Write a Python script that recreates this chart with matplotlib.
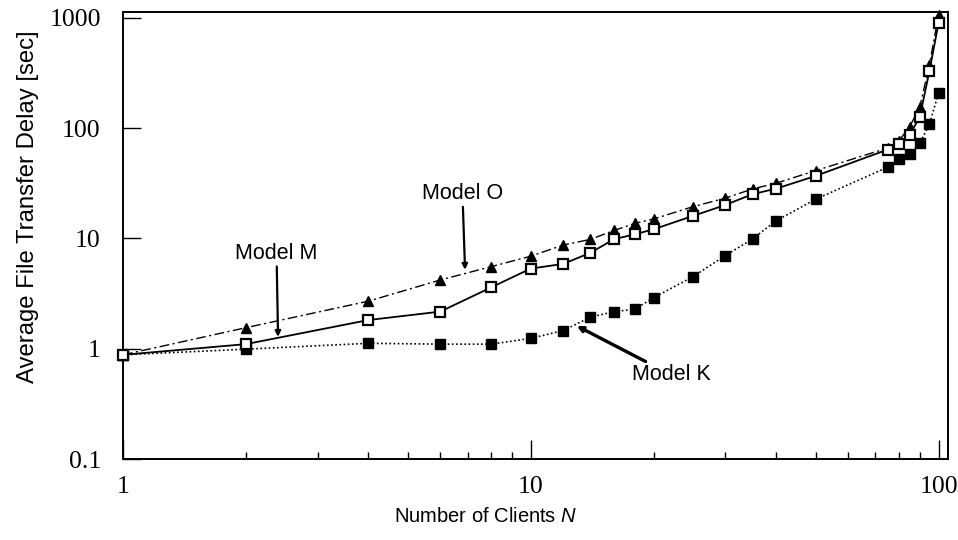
import matplotlib
matplotlib.use("Agg")
import matplotlib.pyplot as plt

# number of clients N
clients = [1, 2, 4, 6, 8, 10, 12, 14, 16, 18, 20, 25, 30, 35, 40, 50, 75, 80, 85, 90, 95, 100]

# average file transfer delay [sec]
delay_o = [0.88, 1.55, 2.7, 4.2, 5.55, 6.9, 8.7, 9.8, 11.8, 13.7, 15.0, 19.4, 23.2, 28.1,
           31.7, 41.2, 66, 77, 103, 157, 375, 1064]
delay_m = [0.88, 1.10, 1.82, 2.17, 3.6, 5.33, 5.87, 7.4, 9.84, 10.9, 12.1, 16.0, 20.1, 25.2,
           28.3, 36.9, 63.9, 72, 86.8, 127, 330, 895]
delay_k = [0.88, 0.99, 1.12, 1.10, 1.10, 1.24, 1.46, 1.93, 2.17, 2.28, 2.9, 4.5, 7.0, 9.9,
           14.5, 22.7, 44.2, 52.3, 58.4, 73, 108.6, 207]

xticks = [1, 10, 100]
xtick_labels = ["1", "10", "100"]
yticks = [0.1, 1, 10, 100, 1000]
ytick_labels = ["0.1", "1", "10", "100", "1000"]

plt.rcParams['font.family'] = ['Liberation Sans', 'DejaVu Sans']
plt.rcParams['mathtext.fontset'] = 'custom'
plt.rcParams['mathtext.it'] = 'Liberation Sans:italic'
plt.rcParams['mathtext.rm'] = 'Liberation Sans'

fig = plt.figure(figsize=(9.58, 5.4), dpi=100)
ax = fig.add_axes([123 / 958, 1 - 459 / 540, 825 / 958, 447 / 540])

# Model O: filled triangles, dash-dot
ax.plot(clients, delay_o, color='black', lw=1.0, linestyle=(0, (7, 2.5, 1.5, 2.5)),
        marker='^', markersize=7, markerfacecolor='black', markeredgecolor='black',
        clip_on=False, zorder=3)
# Model K: filled squares, dotted
ax.plot(clients, delay_k, color='black', lw=1.2, linestyle=(0, (1, 1.5)),
        marker='s', markersize=7, markerfacecolor='black', markeredgecolor='black',
        clip_on=False, zorder=3)
# Model M: open squares, solid
ax.plot(clients, delay_m, color='black', lw=1.3, linestyle='-',
        marker='s', markersize=6.5, markerfacecolor='white', markeredgecolor='black',
        markeredgewidth=1.6, clip_on=False, zorder=4)

ax.set_xscale('log')
ax.set_yscale('log')
ax.set_xlim(1, 105.5)
ax.set_ylim(0.1, 1130)

ax.set_xticks(xticks, labels=xtick_labels)
ax.set_yticks(yticks, labels=ytick_labels)
ax.yaxis.set_minor_locator(matplotlib.ticker.NullLocator())
ax.xaxis.set_minor_formatter(matplotlib.ticker.NullFormatter())

ax.tick_params(axis='x', which='major', direction='in', length=13.5, width=1, pad=12,
               labelsize=18.5, labelfontfamily='Liberation Serif')
ax.tick_params(axis='x', which='minor', direction='in', length=5, width=1)
ax.tick_params(axis='y', which='major', direction='in', length=13, width=1, pad=16,
               labelsize=18.5, labelfontfamily='Liberation Serif')

for side in ['left', 'right', 'top', 'bottom']:
    ax.spines[side].set_linewidth(1.4)
    ax.spines[side].set_color('black')

ax.set_xlabel(r"Number of Clients $\it{N}$", fontsize=14.5)
ax.xaxis.set_label_coords(0.44, -0.108)
ax.set_ylabel("Average File Transfer Delay [sec]", fontsize=17.2)
ax.yaxis.set_label_coords(-0.102, 0.564)

arrow = dict(arrowstyle='-|>', color='black', lw=1.6, mutation_scale=8, shrinkA=0, shrinkB=0)
ax.annotate("Model M", xy=(2.40, 1.28), xytext=(2.38, 5.9),
            ha='center', va='bottom', fontsize=15.5, arrowprops=arrow)
ax.annotate("Model O", xy=(6.9, 5.2), xytext=(6.8, 20.5),
            ha='center', va='bottom', fontsize=15.5, arrowprops=arrow)
arrow_k = dict(arrow, lw=2.4)
ax.annotate("Model K", xy=(12.97, 1.61), xytext=(17.7, 0.58),
            ha='left', va='center', fontsize=15.5, arrowprops=arrow_k)

fig.savefig("out.png", dpi=100)
